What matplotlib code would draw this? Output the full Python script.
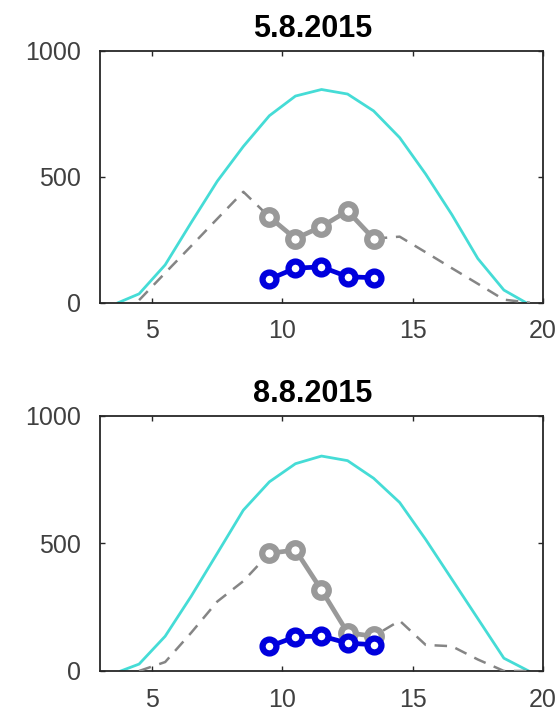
import numpy as np
import matplotlib.pyplot as plt

plt.rcParams['font.family'] = ['Liberation Sans', 'DejaVu Sans']

# hours of day
hours_cyan_a = [3.7, 4.5, 5.5, 6.5, 7.5, 8.5, 9.5, 10.5, 11.5, 12.5, 13.5, 14.5, 15.5, 16.5, 17.5, 18.5, 19.35]
cyan_a = [0, 35, 150, 318, 482, 620, 742, 820, 846, 828, 761, 655, 510, 350, 175, 50, 0]
hours_cyan_b = [3.8, 4.5, 5.5, 6.5, 7.5, 8.5, 9.5, 10.5, 11.5, 12.5, 13.5, 14.5, 15.5, 16.5, 17.5, 18.5, 19.45]
cyan_b = [0, 27, 136, 293, 461, 630, 741, 812, 842, 824, 755, 660, 515, 360, 205, 50, 0]

hours_dash = [4.5, 5.5, 6.5, 7.5, 8.5, 9.5, 10.5, 11.5, 12.5, 13.5, 14.5, 15.5, 16.5, 17.5, 18.5, 19.5]
dash_a = [10, 118, 225, 333, 440, 340, 254, 302, 364, 254, 262, 200, 137, 75, 12, 0]
dash_b = [0, 35, 150, 272, 352, 461, 474, 317, 150, 136, 197, 102, 97, 45, 0, 0]

hours_meas = [9.5, 10.5, 11.5, 12.5, 13.5]
gray_a = [340, 254, 302, 364, 254]
blue_a = [93, 137, 142, 103, 99]
gray_b = [461, 474, 317, 150, 136]
blue_b = [96, 134, 137, 109, 103]

titles = ['5.8.2015', '8.8.2015']

fig = plt.figure(figsize=(5.6, 7.11), dpi=100)
ax1 = fig.add_axes([0.1786, 0.5743, 0.791, 0.3544])
ax2 = fig.add_axes([0.1786, 0.0563, 0.791, 0.359])

panels = [(ax1, hours_cyan_a, cyan_a, dash_a, gray_a, blue_a, titles[0]),
          (ax2, hours_cyan_b, cyan_b, dash_b, gray_b, blue_b, titles[1])]

for ax, hc, cy, da, gr, bl, title in panels:
    ax.plot(hc, cy, color='#45dcd6', lw=2.0, zorder=2)
    ax.plot(hours_dash, da, color='#858585', lw=1.8, ls=(0, (5, 3.5)), zorder=3)
    ax.plot(hours_meas, gr, color='#999999', lw=3.4, marker='o', ms=10.5, mew=4.5,
            mfc='white', mec='#999999', zorder=4)
    ax.plot(hours_meas, bl, color='#0000dd', lw=3.4, marker='o', ms=10, mew=4.5,
            mfc='white', mec='#0000dd', zorder=5)
    ax.set_xlim(3, 20)
    ax.set_ylim(0, 1000)
    ax.set_xticks([5, 10, 15, 20])
    ax.set_yticks([0, 500, 1000])
    ax.tick_params(direction='in', length=3.5, width=1.0, colors='#262626',
                   labelcolor='#404040', labelsize=18, top=True, right=True)
    ax.tick_params(axis='x', pad=12)
    ax.tick_params(axis='y', pad=14)
    for s in ax.spines.values():
        s.set_color('#262626')
        s.set_linewidth(1.3)
    ax.set_title(title, fontsize=22, fontweight='bold', pad=10, x=0.48)

fig.savefig('out.png', dpi=100)
